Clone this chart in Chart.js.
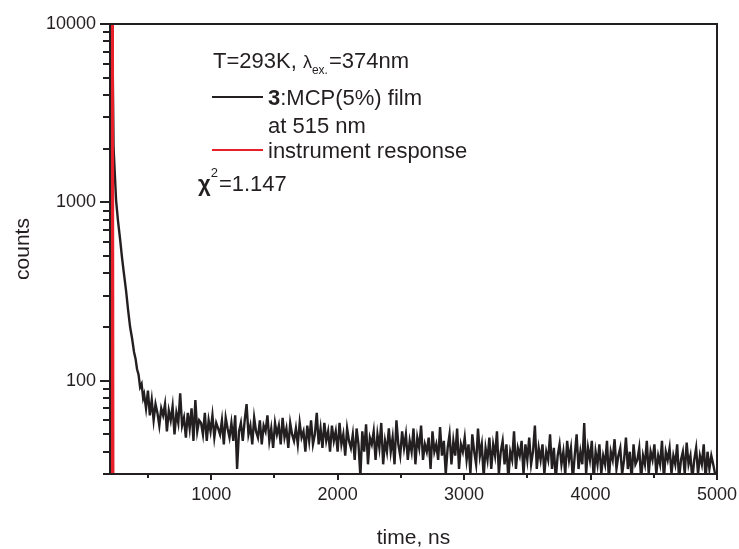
<!DOCTYPE html>
<html>
<head>
<meta charset="utf-8">
<script src="https://cdn.jsdelivr.net/npm/chart.js@4"></script>
<style>
  body { margin: 0; background: #fff; }
  canvas { display: block; }
</style>
</head>
<body>
<canvas id="decayChart" width="739" height="549"></canvas>
<script>
// rising edge + fast part of the decay (ns, counts)
const decayTimes  = [205, 218, 228, 238, 248, 263, 280, 295, 310, 327, 343, 359, 375, 390, 402, 414, 426, 438, 450, 462];
const decayCounts = [5, 9800, 2040, 1450, 1030, 790, 620, 490, 400, 320, 250, 200, 172, 145, 133, 116, 108, 92, 96, 80];

// noisy tail, one channel every 15 ns starting at 470 ns
const tailStart = 470;
const tailStep = 15;
const tailCounts = [
  84, 70, 88, 64, 78, 60, 74, 66, 56, 70,
  64, 74, 52, 68, 60, 72, 50, 66, 58, 85,
  56, 62, 48, 66, 54, 70, 46, 78, 52, 60,
  58, 50, 66, 46, 60, 52, 64, 48, 58, 54,
  50, 60, 44, 62, 54, 48, 58, 46, 64, 32,
  52, 58, 46, 60, 74, 50, 56, 44, 62, 52,
  48, 60, 44, 56, 52, 64, 46, 54, 42, 58,
  50, 56, 44, 62, 48, 54, 42, 58, 50, 46,
  54, 44, 58, 48, 52, 40, 56, 46, 60, 44,
  50, 66, 44, 54, 42, 58, 46, 52, 40, 56,
  46, 52, 40, 58, 44, 50, 38, 54, 46, 42,
  50, 36, 54, 44, 29, 52, 40, 57, 34, 48,
  44, 52, 36, 50, 42, 58, 34, 46, 40, 54,
  40, 48, 34, 60, 44, 38, 52, 42, 50, 36,
  46, 40, 54, 34, 48, 42, 56, 36, 44, 40,
  48, 32, 52, 40, 44, 36, 55, 38, 46, 30,
  42, 50, 34, 46, 38, 54, 32, 44, 40, 48,
  36, 44, 30, 50, 40, 34, 54, 38, 44, 29,
  42, 36, 48, 32, 44, 38, 52, 30, 40, 46,
  34, 44, 28, 40, 36, 52, 32, 42, 38, 46,
  30, 44, 36, 48, 34, 40, 56, 32, 42, 36,
  44, 30, 40, 36, 50, 32, 42, 28, 38, 44,
  34, 40, 30, 46, 36, 42, 28, 38, 50, 32,
  40, 34, 58, 30, 42, 36, 46, 28, 40, 34,
  44, 30, 38, 34, 46, 28, 40, 36, 47, 32,
  38, 42, 30, 36, 48, 32, 40, 28, 44, 34,
  36, 42, 28, 38, 34, 46, 30, 40, 36, 44,
  30, 38, 34, 46, 28, 40, 36, 42, 30, 38,
  34, 44, 28, 36, 40, 30, 45, 34, 38, 28,
  36, 42, 30, 38, 34, 44, 28, 40, 32, 38,
  34, 30
];

// instrument response (very narrow pulse)
const irfTimes  = [214, 218, 222, 226];
const irfCounts = [1, 100000, 100000, 1];

const xTickValues = [500, 1000, 1500, 2000, 2500, 3000, 3500, 4000, 4500, 5000];
const xLabelled   = [1000, 2000, 3000, 4000, 5000];
const yTickValues = [30, 40, 50, 60, 70, 80, 90, 100, 200, 300, 400, 500, 600, 700, 800, 900,
                     1000, 2000, 3000, 4000, 5000, 6000, 7000, 8000, 9000, 10000];
const yLabelled   = [100, 1000, 10000];

const ink = '#231f20';
const red = '#e8202a';
const family = '"Liberation Sans", Arial, sans-serif';

const decayData = decayTimes.map((t, i) => ({ x: t, y: decayCounts[i] }))
  .concat(tailCounts.map((c, i) => ({ x: tailStart + i * tailStep, y: c })));
const irfData = irfTimes.map((t, i) => ({ x: t, y: irfCounts[i] }));

// frame, tick marks and the text block inside the plot
const decorations = {
  id: 'decorations',
  afterDraw(chart) {
    const { ctx, chartArea: a } = chart;
    const xs = chart.scales.x, ys = chart.scales.y;
    ctx.save();
    ctx.strokeStyle = ink;
    ctx.lineWidth = 2;
    ctx.strokeRect(a.left, a.top, a.right - a.left, a.bottom - a.top);

    ctx.beginPath();
    xTickValues.forEach(v => {
      const px = Math.round(xs.getPixelForValue(v));
      const len = xLabelled.includes(v) ? 6 : 4;
      ctx.moveTo(px, a.bottom);
      ctx.lineTo(px, a.bottom + len);
    });
    yTickValues.forEach(v => {
      const py = Math.round(ys.getPixelForValue(v));
      const len = yLabelled.includes(v) ? 10 : 7;
      ctx.moveTo(a.left, py);
      ctx.lineTo(a.left - len, py);
    });
    ctx.stroke();

    ctx.fillStyle = ink;
    ctx.textBaseline = 'alphabetic';
    const f = '22px ' + family;

    // line 1
    let x = 213;
    ctx.font = f;
    ctx.fillText('T=293K, ', x, 68);
    x += ctx.measureText('T=293K, ').width;
    ctx.font = '18px ' + family;
    ctx.fillText('λ', x, 68);
    x += ctx.measureText('λ').width;
    ctx.font = '12px ' + family;
    ctx.fillText('ex.', x, 74);
    x += ctx.measureText('ex.').width + 1;
    ctx.font = f;
    ctx.fillText('=374nm', x, 68);

    // legend lines
    ctx.lineWidth = 2;
    ctx.strokeStyle = ink;
    ctx.beginPath();
    ctx.moveTo(212, 97);
    ctx.lineTo(263, 97);
    ctx.stroke();
    ctx.strokeStyle = red;
    ctx.beginPath();
    ctx.moveTo(212, 150);
    ctx.lineTo(263, 150);
    ctx.stroke();

    ctx.font = 'bold 22px ' + family;
    ctx.fillText('3', 268, 105);
    const w3 = ctx.measureText('3').width;
    ctx.font = f;
    ctx.fillText(':MCP(5%) film', 268 + w3, 105);
    ctx.fillText('at 515 nm', 268, 133);
    ctx.fillText('instrument response', 268, 158);

    // chi^2
    ctx.font = 'bold 22px ' + family;
    ctx.fillText('χ', 198, 191);
    x = 198 + ctx.measureText('χ').width;
    ctx.font = '13px ' + family;
    ctx.fillText('2', x, 177);
    x += ctx.measureText('2').width + 1;
    ctx.font = f;
    ctx.fillText('=1.147', x, 191);
    ctx.restore();
  }
};

const ctxDecay = document.getElementById('decayChart').getContext('2d');
const decayChart = new Chart(ctxDecay, {
  type: 'line',
  data: {
    datasets: [{
      label: 'instrument response',
      data: irfData,
      borderColor: red,
      borderWidth: 3,
      pointRadius: 0,
      tension: 0
    }, {
      label: '3:MCP(5%) film at 515 nm',
      data: decayData,
      borderColor: ink,
      borderWidth: 2.4,
      pointRadius: 0,
      tension: 0
    }]
  },
  options: {
    responsive: false,
    animation: false,
    layout: { padding: { top: 24, right: 22, left: 0, bottom: 0 } },
    plugins: { legend: { display: false }, tooltip: { enabled: false } },
    scales: {
      x: {
        type: 'linear',
        min: 200,
        max: 5000,
        grid: { display: false, drawTicks: false },
        border: { display: false },
        afterBuildTicks: s => { s.ticks = xTickValues.map(v => ({ value: v })); },
        afterFit: s => { s.height = 75; s.paddingLeft = 0; s.paddingRight = 0; },
        ticks: {
          autoSkip: false,
          maxRotation: 0,
          padding: 10,
          color: ink,
          font: { family: family, size: 18 },
          callback: v => xLabelled.includes(v) ? String(v) : ''
        },
        title: {
          display: true,
          text: 'time, ns',
          color: ink,
          font: { family: family, size: 21 },
          padding: { top: 0, bottom: -2 }
        }
      },
      y: {
        type: 'logarithmic',
        min: 30,
        max: 10000,
        grid: { display: false, drawTicks: false },
        border: { display: false },
        afterBuildTicks: s => { s.ticks = yTickValues.map(v => ({ value: v })); },
        afterFit: s => { s.width = 110; s.paddingTop = 0; s.paddingBottom = 0; },
        ticks: {
          autoSkip: false,
          padding: 14,
          color: ink,
          font: { family: family, size: 18 },
          callback: v => yLabelled.includes(v) ? String(v) : ''
        },
        title: {
          display: true,
          text: 'counts',
          color: ink,
          font: { family: family, size: 21 },
          padding: { top: 11, bottom: 0 }
        }
      }
    }
  },
  plugins: [decorations]
});
</script>
</body>
</html>
